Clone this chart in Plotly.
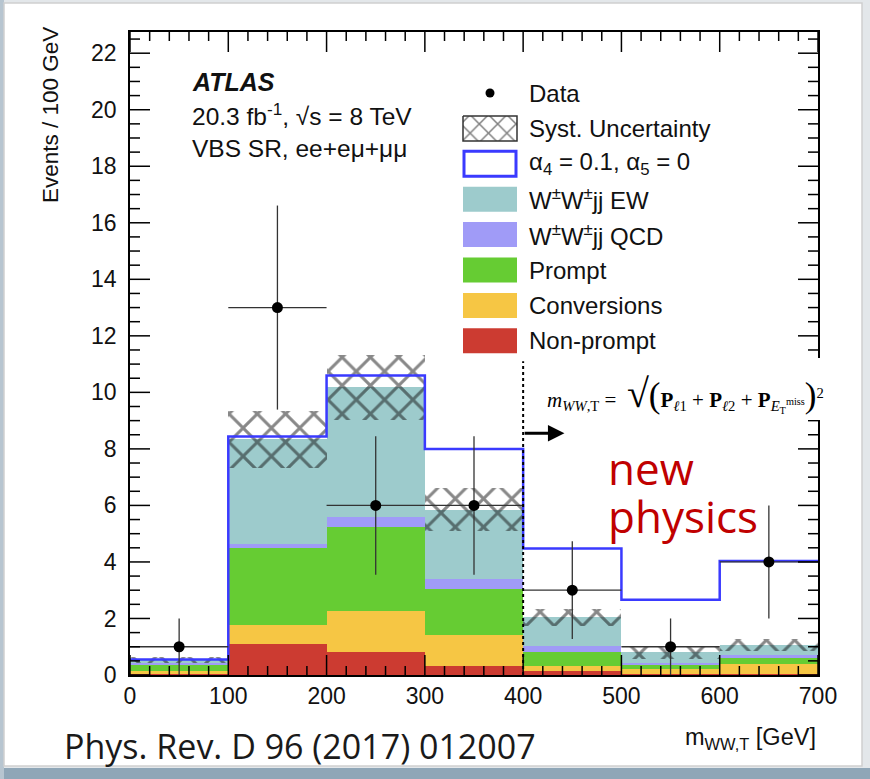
import numpy as np
import plotly.graph_objects as go

## DATA
bin_edges = [0, 100, 200, 300, 400, 500, 600, 700]
nonprompt = [0.05, 1.09, 0.80, 0.33, 0.15, 0.05, 0.02]
conversions = [0.08, 0.68, 1.45, 1.08, 0.16, 0.18, 0.37]
prompt = [0.25, 2.71, 2.98, 1.65, 0.51, 0.12, 0.20]
wwqcd = [0.03, 0.16, 0.35, 0.32, 0.21, 0.08, 0.11]
wwew = [0.11, 3.70, 4.60, 2.47, 1.02, 0.37, 0.36]
syst = [0.10, 1.00, 1.15, 0.75, 0.30, 0.22, 0.21]
signal = [0.55, 8.44, 10.60, 8.00, 4.48, 2.66, 4.03]
data = [1, 13, 6, 6, 3, 1, 4]
data_err = [1.0, 3.61, 2.45, 2.45, 1.73, 1.0, 2.0]
cut = 400

edges = np.array(bin_edges, dtype=float)
centers = 0.5 * (edges[1:] + edges[:-1])
widths = np.diff(edges)

# figure geometry (pixels)
W, H = 870, 779
L, R, T, B = 130, 818, 32, 675
XMAX, YMAX = 700, 22.75

def px(x):
    return (x - L) / (R - L)

def py(y):
    return (B - y) / (B - T)

# pixel -> data coords (only used for the hand-made legend keys)
def dx(x):
    return (x - L) / (R - L) * XMAX

def dy(y):
    return (B - y) / (B - T) * YMAX

fig = go.Figure()

# stacked backgrounds, bottom to top
stack = [
    ("Non-prompt", nonprompt, "#cc3b31"),
    ("Conversions", conversions, "#f6c644"),
    ("Prompt", prompt, "#66cc33"),
    ("W<sup>±</sup>W<sup>±</sup>jj QCD", wwqcd, "#a09bf7"),
    ("W<sup>±</sup>W<sup>±</sup>jj EW", wwew, "#9dcbcc"),
]
base = np.zeros(len(centers))
for name, vals, col in stack:
    vals = np.array(vals)
    fig.add_trace(go.Bar(x=centers, y=vals, base=base, width=widths,
                         marker=dict(color=col, line=dict(width=0)),
                         name=name, showlegend=False))
    base = base + vals
total = base

# signal step line
fig.add_trace(go.Scatter(x=edges, y=list(signal) + [signal[-1]], mode="lines",
                         line=dict(color="#3a3aff", width=2.5, shape="hv"),
                         showlegend=False))

# syst uncertainty band (hatched)
err = np.array(syst)
fig.add_trace(go.Bar(x=centers, y=2 * err, base=total - err, width=widths,
                     marker=dict(color="rgba(0,0,0,0)", line=dict(width=0),
                                 pattern=dict(shape="x", fgcolor="#111111",
                                              bgcolor="rgba(0,0,0,0)",
                                              size=20, solidity=0.28)),
                     showlegend=False))

# data
fig.add_trace(go.Scatter(x=centers, y=data, mode="markers",
                         marker=dict(color="black", size=11),
                         error_x=dict(type="data", array=widths / 2, width=0,
                                      thickness=1.3, color="#333333"),
                         error_y=dict(type="data", array=data_err, width=0,
                                      thickness=1.3, color="#333333"),
                         showlegend=False))

## legend keys (hand placed)
leg_x0, leg_x1 = 463, 517
leg_y0, leg_dy, leg_h = 93, 35.4, 12.5
legend_items = [
    ("Data", "data", None),
    ("Syst. Uncertainty", "hatch", None),
    ("α<sub>4</sub> = 0.1, α<sub>5</sub> = 0", "outline", "#3a3aff"),
    ("W<sup>±</sup>W<sup>±</sup>jj EW", "fill", "#9dcbcc"),
    ("W<sup>±</sup>W<sup>±</sup>jj QCD", "fill", "#a09bf7"),
    ("Prompt", "fill", "#66cc33"),
    ("Conversions", "fill", "#f6c644"),
    ("Non-prompt", "fill", "#cc3b31"),
]
annotations = []
shapes = []
for i, (label, kind, col) in enumerate(legend_items):
    yc = leg_y0 + i * leg_dy
    if kind == "data":
        fig.add_trace(go.Scatter(x=[dx(490)], y=[dy(yc)], mode="markers",
                                 marker=dict(color="black", size=9), showlegend=False))
    elif kind == "hatch":
        xs = [dx(leg_x0), dx(leg_x1), dx(leg_x1), dx(leg_x0), dx(leg_x0)]
        ys = [dy(yc - leg_h), dy(yc - leg_h), dy(yc + leg_h), dy(yc + leg_h), dy(yc - leg_h)]
        fig.add_trace(go.Scatter(x=xs, y=ys, mode="lines", fill="toself", fillcolor="white",
                                 fillpattern=dict(shape="x", fgcolor="black", bgcolor="white",
                                                  size=13, solidity=0.22),
                                 line=dict(color="#333333", width=1.5), showlegend=False))
    elif kind == "outline":
        shapes.append(dict(type="rect", xref="paper", yref="paper", x0=px(leg_x0 + 1), x1=px(leg_x1 - 1),
                           y0=py(yc - leg_h), y1=py(yc + leg_h), fillcolor="white",
                           line=dict(color=col, width=3), layer="above"))
    else:
        shapes.append(dict(type="rect", xref="paper", yref="paper", x0=px(leg_x0), x1=px(leg_x1),
                           y0=py(yc - leg_h), y1=py(yc + leg_h), fillcolor=col,
                           line=dict(width=0), layer="above"))
    annotations.append(dict(x=px(527), y=py(yc), xref="paper", yref="paper",
                            text=label, showarrow=False, xanchor="left", yanchor="middle",
                            font=dict(family="Liberation Sans", size=24, color="#111111")))

# ATLAS label
annotations += [
    dict(x=px(190), y=py(82), xref="paper", yref="paper", text="<b><i>ATLAS</i></b>",
         showarrow=False, xanchor="left", yanchor="middle",
         font=dict(family="Liberation Sans", size=25, color="#111111")),
    dict(x=px(190), y=py(115), xref="paper", yref="paper",
         text="20.3 fb<sup>-1</sup>, √s = 8 TeV",
         showarrow=False, xanchor="left", yanchor="middle",
         font=dict(family="Liberation Sans", size=24.5, color="#111111")),
    dict(x=px(190), y=py(148), xref="paper", yref="paper",
         text="VBS SR, ee+eμ+μμ",
         showarrow=False, xanchor="left", yanchor="middle",
         font=dict(family="Liberation Sans", size=24.5, color="#111111")),
]

# axis titles
annotations += [
    dict(x=px(50), y=py(25), xref="paper", yref="paper", text="Events / 100 GeV",
         textangle=-90, showarrow=False, xanchor="center", yanchor="top",
         font=dict(family="Liberation Sans", size=22.5, color="#111111")),
    dict(x=px(818), y=py(738), xref="paper", yref="paper", text="m<sub>WW,T</sub> [GeV]",
         showarrow=False, xanchor="right", yanchor="middle",
         font=dict(family="Liberation Sans", size=23.5, color="#111111")),
    dict(x=px(62), y=py(746), xref="paper", yref="paper", text="Phys. Rev. D 96 (2017) 012007",
         showarrow=False, xanchor="left", yanchor="middle",
         font=dict(family="Open Sans", size=34, color="#1a1a1a")),
]

# cut arrow
annotations.append(dict(x=442, y=8.55, ax=cut, ay=8.55, xref="x", yref="y", axref="x", ayref="y",
                        text="", showarrow=True, arrowhead=2, arrowsize=1.1,
                        arrowwidth=3, arrowcolor="black"))

# formula and "new physics"
formula = ("<i>m</i><sub><i>WW</i>,T</sub> =  "
           "<span style='font-size:40px'>√</span>"
           "<span style='font-size:35px'>(</span>"
           "<b>P</b><sub><i>ℓ</i>1</sub> + <b>P</b><sub><i>ℓ</i>2</sub> + "
           "<b>P</b><sub><i>E</i><sub>T</sub><sup>miss</sup></sub>"
           "<span style='font-size:35px'>)</span><sup>2</sup>")
annotations += [
    dict(x=px(545), y=py(393), xref="paper", yref="paper", text=formula,
         showarrow=False, xanchor="left", yanchor="middle",
         font=dict(family="Liberation Serif", size=21, color="black")),
    dict(x=px(606), y=py(468), xref="paper", yref="paper", text="new",
         showarrow=False, xanchor="left", yanchor="middle",
         font=dict(family="Open Sans", size=44, color="#c00000")),
    dict(x=px(606), y=py(516), xref="paper", yref="paper", text="physics",
         showarrow=False, xanchor="left", yanchor="middle",
         font=dict(family="Open Sans", size=44, color="#c00000")),
]

# slide card / background
shapes = [
    dict(type="rect", xref="paper", yref="paper", x0=px(-5), x1=px(W + 5), y0=py(768), y1=py(H + 5),
         fillcolor="#8fa6b7", line=dict(width=0), layer="below"),
    dict(type="rect", xref="paper", yref="paper", x0=px(-5), x1=px(4), y0=py(0), y1=py(H + 5),
         fillcolor="#b7c5d0", line=dict(width=0), layer="below"),
    dict(type="rect", xref="paper", yref="paper", x0=px(4), x1=px(862), y0=py(3), y1=py(766),
         fillcolor="white", line=dict(color="#cfcfcf", width=1.5), layer="below"),
] + shapes

# ROOT-style inside ticks on all four sides (major + minor)
tick = dict(color="black", width=1.5)
for v in np.arange(0, XMAX + 1, 20):
    n = 20 if v % 100 == 0 else 9
    for anchor, sign in ((0, 1), (1, -1)):
        shapes.append(dict(type="line", xref="x", yref="paper", ysizemode="pixel", yanchor=anchor,
                           x0=v, x1=v, y0=0, y1=sign * n, line=tick, layer="above"))
for v in np.arange(0, YMAX, 0.5):
    n = 20 if v % 2 == 0 else 10
    for anchor, sign in ((0, 1), (1, -1)):
        shapes.append(dict(type="line", xref="paper", yref="y", xsizemode="pixel", xanchor=anchor,
                           x0=0, x1=sign * n, y0=v, y1=v, line=tick, layer="above"))

shapes += [
    # dotted cut line
    dict(type="line", xref="x", yref="y", x0=cut, x1=cut, y0=0, y1=11.1,
         line=dict(color="black", width=2, dash="dot"), layer="above"),
    # white box behind the formula
    dict(type="rect", xref="paper", yref="paper", x0=px(530), x1=px(850), y0=py(358), y1=py(420),
         fillcolor="white", line=dict(width=0), layer="above"),
]

axis_common = dict(showgrid=False, zeroline=False, showline=True, linecolor="black", linewidth=1.5,
                   mirror=True, ticks="",
                   tickfont=dict(family="Liberation Sans", size=23, color="#111111"))

fig.update_layout(
    width=W, height=H,
    margin=dict(l=L, r=W - R, t=T, b=H - B),
    barmode="overlay", bargap=0,
    paper_bgcolor="#e3e7ea", plot_bgcolor="white",
    showlegend=False,
    xaxis=dict(range=[0, XMAX], tickvals=bin_edges, **axis_common),
    yaxis=dict(range=[0, YMAX], dtick=2, ticklabelstandoff=7, **axis_common),
    annotations=annotations,
    shapes=shapes,
)

fig.write_html("out.html", config={"displayModeBar": False},
               post_script="document.body.style.margin='0px';")
